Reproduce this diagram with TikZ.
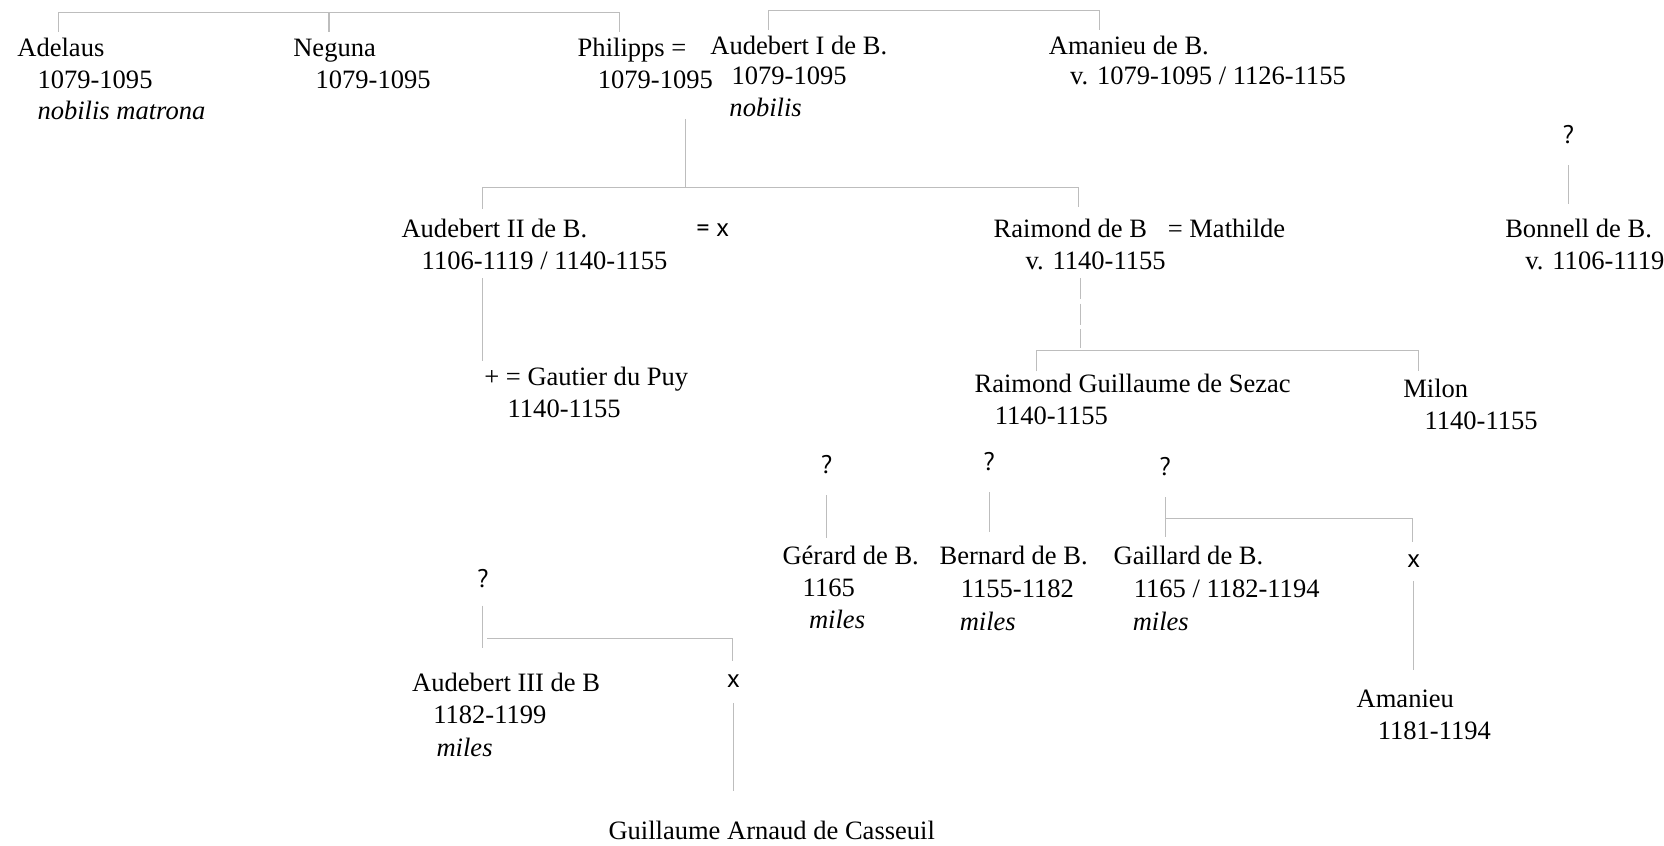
\documentclass[tikz,border=0pt]{standalone}
\usepackage{fontspec}
\setmainfont{Liberation Serif}
\newfontfamily\markFont{PT Sans}
\usetikzlibrary{calc}

\begin{document}
\begin{tikzpicture}[x=0.5pt, y=-0.5pt,
    person/.style={anchor=base west, inner sep=0pt, font=\fontsize{12.5}{15}\selectfont},
    dignity/.style={person, font=\fontsize{12.5}{15}\selectfont\itshape},
    query/.style={anchor=base, inner sep=0pt, font=\markFont\fontsize{12}{14}\selectfont},
    lineage/.style={draw=lineColour, line width=0.5pt},
    doubtful/.style={lineage, dash pattern=on 10pt off 2pt}]

    \definecolor{lineColour}{HTML}{BDBDBD}

    % Fix the margins
    \useasboundingbox (0,0) rectangle (1568,797);

    % First generation
    \node[person] (adelaus) at (16,53) {Adelaus};
    \node[person] (adelausDates) at (35,83) {1079-1095};
    \node[dignity] (adelausRank) at (35,113) {nobilis matrona};
    \node[person] (neguna) at (276,53) {Neguna};
    \node[person] (negunaDates) at (297,83) {1079-1095};
    \node[person] (philipps) at (544,53) {Philipps =};
    \node[person] (philippsDates) at (563,83) {1079-1095};
    \node[person] (audebertI) at (669,51) {Audebert I de B.};
    \node[person] (audebertIDates) at (689,80) {1079-1095};
    \node[dignity] (audebertIRank) at (687,110) {nobilis};
    \node[person] (amanieuI) at (988,51) {Amanieu de B.};
    \node[person] (amanieuIDates) at (1008,80) {v. 1079-1095 / 1126-1155};

    % Brackets above the first generation
    \coordinate (adelausTop) at (55,30);
    \coordinate (negunaTop) at (310,30);
    \coordinate (philippsTop) at (584,30);
    \coordinate (audebertITop) at (724,28);
    \coordinate (amanieuITop) at (1036,28);
    \draw[lineage] (adelausTop) -- ++(0,-18) -| (philippsTop);
    \draw[lineage] (negunaTop) -- ++(0,-18);
    \draw[lineage] (audebertITop) -- ++(0,-18) -| (amanieuITop);

    % Second generation
    \node[person] (audebertII) at (378,224) {Audebert II de B.};
    \node[person] (audebertIIDates) at (397,254) {1106-1119 / 1140-1155};
    \node[query, anchor=base west] (audebertIISpouse) at (656,223) {= x};
    \node[person] (raimond) at (936,224) {Raimond de B};
    \node[person] (raimondSpouse) at (1100,224) {= Mathilde};
    \node[person] (raimondDates) at (966,254) {v. 1140-1155};
    \node[query] (bonnellQuery) at (1478,135) {?};
    \node[person] (bonnell) at (1418,224) {Bonnell de B.};
    \node[person] (bonnellDates) at (1437,254) {v. 1106-1119};

    % Children of Philipps and Audebert I
    \coordinate (coupleI) at (646,112);
    \coordinate (audebertIITop) at (455,197);
    \coordinate (raimondTop) at (1016,195);
    \draw[lineage] (coupleI) -- ++(0,65);
    \draw[lineage] (audebertIITop) |- ($(coupleI)+(0,65)$) -| (raimondTop);
    \draw[lineage] ([yshift=-10pt]bonnellQuery.south) -- ++(0,37);

    % Third generation
    \node[person] (gautier) at (456,363) {+ = Gautier du Puy};
    \node[person] (gautierDates) at (478,393) {1140-1155};
    \node[person] (raimondG) at (918,370) {Raimond Guillaume de Sezac};
    \node[person] (raimondGDates) at (937,400) {1140-1155};
    \node[person] (milon) at (1322,375) {Milon};
    \node[person] (milonDates) at (1342,405) {1140-1155};

    \draw[lineage] (455,262) coordinate (audebertIIFoot) -- (audebertIIFoot |- 0,340);
    \coordinate (raimondFoot) at (1018,262);
    \draw[doubtful] (raimondFoot) -- ++(0,66);
    \coordinate (raimondGTop) at (977,350);
    \coordinate (milonTop) at (1337,350);
    \draw[lineage] (raimondGTop) -- ++(0,-20) -| (milonTop);

    % Fourth generation
    \node[query] (gerardQuery) at (779,446) {?};
    \node[person] (gerard) at (737,532) {Gérard de B.};
    \node[person] (gerardDates) at (756,562) {1165};
    \node[dignity] (gerardRank) at (762,592) {miles};
    \node[query] (bernardQuery) at (932,443) {?};
    \node[person] (bernard) at (885,532) {Bernard de B.};
    \node[person] (bernardDates) at (905,563) {1155-1182};
    \node[dignity] (bernardRank) at (904,594) {miles};
    \node[query] (gaillardQuery) at (1098,448) {?};
    \node[person] (gaillard) at (1049,532) {Gaillard de B.};
    \node[person] (gaillardDates) at (1068,563) {1165 / 1182-1194};
    \node[dignity] (gaillardRank) at (1067,594) {miles};
    \node[query] (gaillardSpouse) at (1332,535) {x};
    \node[person] (amanieuII) at (1278,667) {Amanieu};
    \node[person] (amanieuIIDates) at (1298,697) {1181-1194};

    \draw[lineage] ([yshift=-10pt]gerardQuery.south) -- ++(0,40);
    \draw[lineage] ([yshift=-10pt]bernardQuery.south) -- ++(0,38);
    \draw[lineage] ([yshift=-10pt]gaillardQuery.south) -- ++(0,37);
    \draw[lineage] ($(gaillardQuery.south)+(0,40)$) -| ($(gaillardSpouse.north)+(-1,-12)$);
    \draw[lineage] ([yshift=-6pt]gaillardSpouse.south) -- ++(0,84);

    % Fifth generation
    \node[query] (audebertIIIQuery) at (455,554) {?};
    \node[person] (audebertIII) at (388,652) {Audebert III de B};
    \node[person] (audebertIIIDates) at (408,682) {1182-1199};
    \node[dignity] (audebertIIIRank) at (411,713) {miles};
    \node[query] (audebertIIISpouse) at (691,648) {x};
    \node[person] (guillaume) at (573,791) {Guillaume Arnaud de Casseuil};

    \draw[lineage] ([yshift=-8pt]audebertIIIQuery.south) -- ++(0,40);
    \draw[lineage] ($(audebertIIIQuery.south)+(4,47)$) -| ($(audebertIIISpouse.north)+(-1,-13)$);
    \draw[lineage] ([yshift=-7pt]audebertIIISpouse.south) -- ++(0,83);

\end{tikzpicture}
\end{document}
